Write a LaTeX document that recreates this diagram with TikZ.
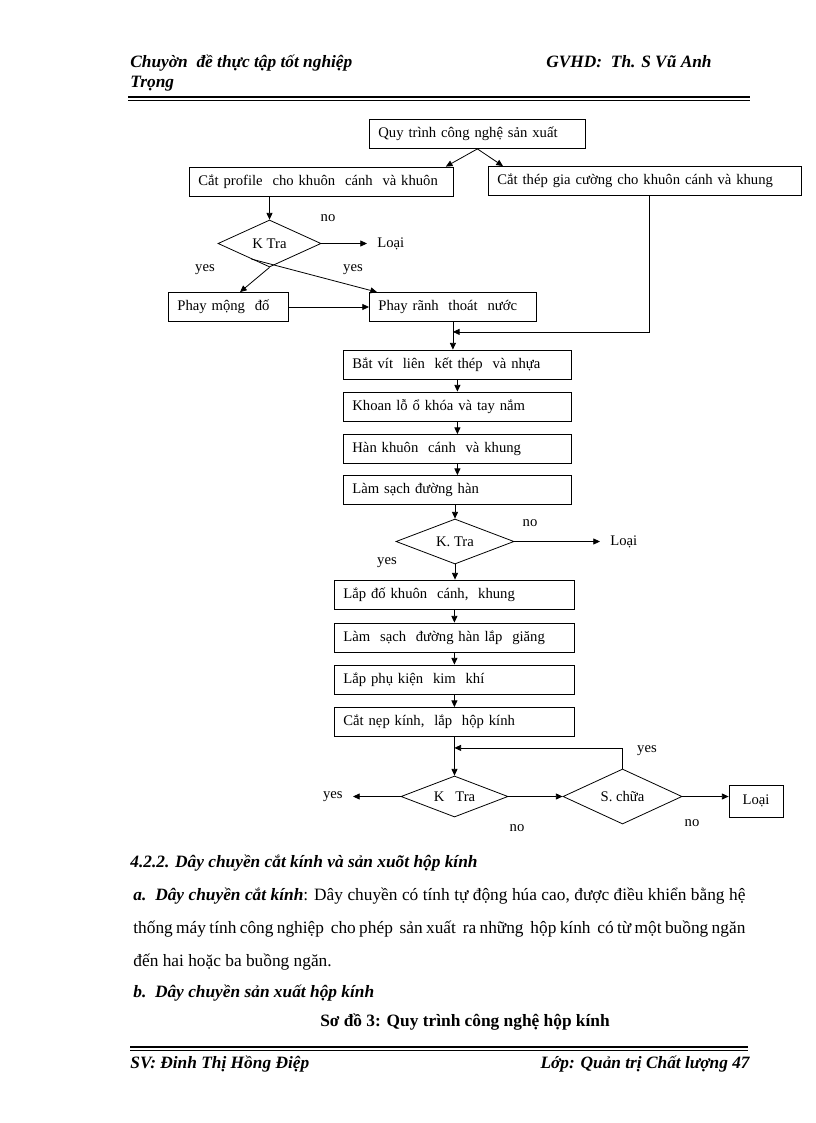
\documentclass[tikz,border=0pt]{standalone}
\usepackage{fontspec}
\setmainfont{Liberation Serif}
\usetikzlibrary{shapes.geometric,arrows.meta,calc}

\begin{document}
\begin{tikzpicture}[x=0.75pt,y=-0.75pt,line width=0.6pt,
  every node/.style={font=\fontsize{11}{13}\selectfont},
  stepbox/.style={draw,anchor=west,inner xsep=6.75pt,inner ysep=0pt,minimum height=21.75pt,align=left},
  test/.style={draw,diamond,inner sep=0pt,aspect=2},
  lbl/.style={inner xsep=7.5pt,inner ysep=1pt},
  arr/.style={-{Triangle[length=5pt,width=4.5pt]}},
  body/.style={anchor=base west,inner sep=0pt,font=\fontsize{13}{15}\selectfont},
  head/.style={anchor=base west,inner sep=0pt,font=\fontsize{13}{15}\selectfont\bfseries\itshape}]
\useasboundingbox (0,0) rectangle (816,1123);

\node[head] (hl) at (130,68) {Chuyờn\ \ đề thực tập tốt nghiệp};
\node[head] (hl2) at (130,88) {Trọng};
\node[head] (hr) at (546,68) {GVHD:\ \ Th. S Vũ Anh};
\draw[line width=1.5pt] (128,97) -- (750,97);
\draw[line width=0.5pt] (128,100) -- (750,100);

\node[stepbox,text width=148.5pt] (quy) at (369,134) {Quy trình công nghệ sản xuất};
\node[stepbox,text width=184.5pt] (cp) at (189,181.5) {Cắt profile\ \ cho khuôn\ \ cánh\ \ và khuôn};
\node[stepbox,text width=221.25pt] (ct) at (488,181) {Cắt thép gia cường cho khuôn cánh và khung};
\node[test,minimum width=77.25pt,minimum height=35.25pt] (kt1) at (269.5,243.5) {K Tra};
\node[lbl,anchor=west] (l1) at (367,243.5) {Loại};
\node (n1) at (328,218) {no};
\node (y1a) at (205,270) {yes};
\node (y1b) at (353,270) {yes};
\node[stepbox,text width=76.5pt] (pm) at (168,307) {Phay mộng\ \ đố};
\node[stepbox,text width=111.75pt] (pr) at (369,307) {Phay rãnh\ \ thoát\ \ nước};

\node[stepbox,text width=157.5pt] (bv) at (343,364.5) {Bắt vít\ \ liên\ \ kết thép\ \ và nhựa};
\node[stepbox,text width=157.5pt] (kl) at (343,406.5) {Khoan lỗ ổ khóa và tay nắm};
\node[stepbox,text width=157.5pt] (hk) at (343,449) {Hàn khuôn\ \ cánh\ \ và khung};
\node[stepbox,text width=157.5pt] (ls) at (343,490) {Làm sạch đường hàn};
\node[test,minimum width=88.5pt,minimum height=33.75pt] (kt2) at (455,541.5) {K. Tra};
\node[lbl,anchor=west] (l2) at (600,541.5) {Loại};
\node (n2) at (530,523) {no};
\node (y2) at (387,563) {yes};
\node[stepbox,text width=166.5pt] (ld) at (334,594.5) {Lắp đố khuôn\ \ cánh,\ \ khung};
\node[stepbox,text width=166.5pt] (lg) at (334,637.5) {Làm\ \ sạch\ \ đường hàn lắp\ \ giăng};
\node[stepbox,text width=166.5pt] (lp) at (334,679.5) {Lắp phụ kiện\ \ kim\ \ khí};
\node[stepbox,text width=166.5pt] (cn) at (334,722) {Cắt nẹp kính,\ \ lắp\ \ hộp kính};

\node[test,minimum width=80.25pt,minimum height=30.75pt] (kt3) at (454.5,796.5) {K\ \ \ Tra};
\node[test,minimum width=89.25pt,minimum height=41.25pt] (sc) at (622.5,796.5) {S. chữa};
\node[draw,minimum width=40.5pt,minimum height=24pt] (loai3) at (756,801) {Loại};
\node[lbl,anchor=east] (y3) at (353,796.5) {yes};
\node (y4) at (647,751) {yes};
\node (n3) at (517,828) {no};
\node (n4) at (692,823) {no};

\draw[arr] (quy.south) -- ($(cp.north east)+(-8,0)$);
\draw[arr] (quy.south) -- ($(ct.north west)+(15,0)$);
\draw[arr] (kt1.north |- cp.south) -- (kt1.north);
\draw[arr] (kt1.east) -- (l1.west);
\draw[arr] (kt1.south) -- ($(pm.north west)+(72,0)$);
\draw[arr] ($(kt1.south)!0.35!(kt1.west)$) -- ($(pr.north west)+(8,0)$);
\draw[arr] (pm.east) -- (pr.west);
\coordinate (join) at ($(pr.south)+(0,10)$);
\draw[arr] (pr.south) -- (pr.south |- bv.north);
\draw[arr] ($(ct.south)+(4.5,0)$) |- (join);
\draw[arr] (bv.south) -- (kl.north);
\draw[arr] (kl.south) -- (hk.north);
\draw[arr] (hk.south) -- (ls.north);
\draw[arr] (kt2.north |- ls.south) -- (kt2.north);
\draw[arr] (kt2.east) -- (l2.west);
\draw[arr] (kt2.south) -- (kt2.south |- ld.north);
\draw[arr] (ld.south) -- (lg.north);
\draw[arr] (lg.south) -- (lp.north);
\draw[arr] (lp.south) -- (cn.north);
\draw[arr] (cn.south) -- (kt3.north);
\coordinate (back) at ($(cn.south)+(0,11)$);
\draw[arr] (sc.north) |- (back);
\draw[arr] (kt3.west) -- (y3.east);
\draw[arr] (kt3.east) -- (sc.west);
\draw[arr] (sc.east) -- (sc.east -| loai3.west);

\node[head] (sec) at (130,867) {4.2.2. Dây chuyền cắt kính và sản xuõt hộp kính};
\node[body] (pa1) at (133,900) {\makebox[459pt][s]{\textbf{\textit{a.\ \ Dây chuyền cắt kính}}: Dây chuyền có tính tự động húa cao, được điều khiển bằng hệ}};
\node[body] (pa2) at (133,933) {\makebox[459pt][s]{thống máy tính công nghiệp\ \ cho phép\ \ sản xuất\ \ ra những\ \ hộp kính\ \ có từ một buồng ngăn}};
\node[body] (pa3) at (133,966) {đến hai hoặc ba buồng ngăn.};
\node[head] (pb) at (133,997) {b.\ \ Dây chuyền sản xuất hộp kính};
\node[body,anchor=base,font=\fontsize{13}{15}\selectfont\bfseries] (cap) at (465,1026) {Sơ đồ 3: Quy trình công nghệ hộp kính};
\draw[line width=1.5pt] (130,1047) -- (748,1047);
\draw[line width=0.5pt] (130,1050) -- (748,1050);
\node[head] (fl) at (130,1068) {SV: Đinh Thị Hồng Điệp};
\node[head,anchor=base east] (fr) at (750,1068) {Lớp: Quản trị Chất lượng 47};
\end{tikzpicture}
\end{document}
